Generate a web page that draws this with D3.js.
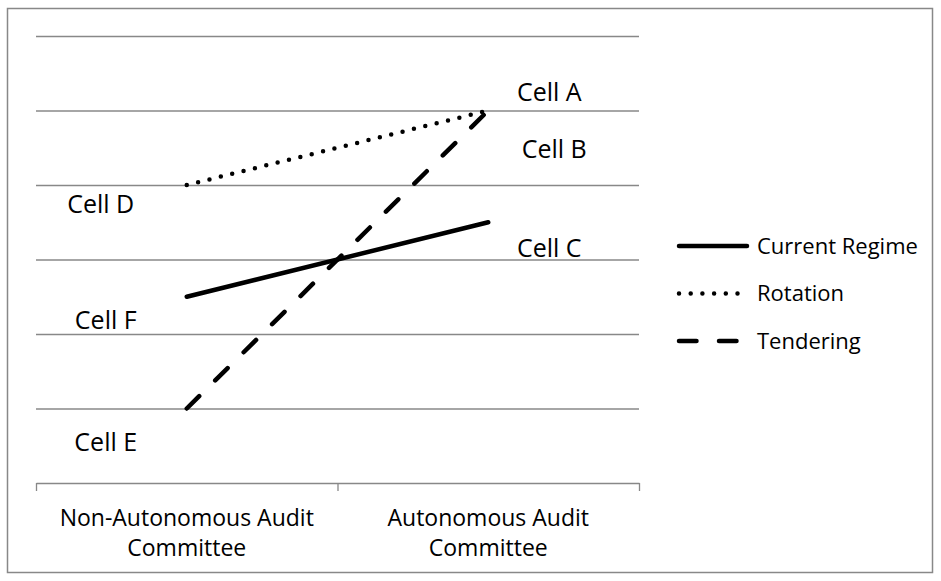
<!DOCTYPE html>
<html>
<head>
<meta charset="utf-8">
<script src="https://cdn.jsdelivr.net/npm/d3@7"></script>
<style>
  body { margin: 0; background: #fff; }
  text { font-family: "Open Sans", sans-serif; fill: #000; }
  .grid line { stroke: #888; stroke-width: 1.3; }
  .grid .domain { display: none; }
  .axis line, .axis path { stroke: #888; stroke-width: 1.3; }
</style>
</head>
<body>
<svg id="chart" width="941" height="581"></svg>
<script>
const categories = ["Non-Autonomous Audit\nCommittee", "Autonomous Audit\nCommittee"];
const seriesNames = ["Current Regime", "Rotation", "Tendering"];
const currentRegime = [2.5, 3.5];
const rotation = [4, 5];
const tendering = [1, 5];
const gridValues = [1, 2, 3, 4, 5, 6];
// cell annotations: category index, value, label
const cellLabels = [
    { cat: 1, value: 5.25, text: "Cell A" },
    { cat: 1, value: 4.48, text: "Cell B" },
    { cat: 1, value: 3.15, text: "Cell C" },
    { cat: 0, value: 3.74, text: "Cell D" },
    { cat: 0, value: 2.19, text: "Cell F" },
    { cat: 0, value: 0.55, text: "Cell E" }
];

const svg = d3.select("#chart");
const plot = { left: 36, right: 639, top: 36, bottom: 483 };

svg.append("rect")
    .attr("x", 7.5).attr("y", 8.5)
    .attr("width", 925).attr("height", 564)
    .attr("fill", "none")
    .attr("stroke", "#888")
    .attr("stroke-width", 1.5);

const x = d3.scaleBand().domain(d3.range(categories.length)).range([plot.left, plot.right]);
const xEdge = d3.scaleLinear().domain([0, categories.length]).range([plot.left, plot.right]);
const y = d3.scaleLinear().domain([0, 6]).range([plot.bottom, plot.top]);
const cx = i => x(i) + x.bandwidth() / 2;

svg.append("g")
    .attr("class", "grid")
    .attr("transform", `translate(${plot.left},0)`)
    .call(d3.axisLeft(y).tickValues(gridValues).tickSize(-(plot.right - plot.left)).tickFormat(""));

svg.append("g")
    .attr("class", "axis")
    .attr("transform", `translate(0,${plot.bottom})`)
    .call(d3.axisBottom(xEdge).tickValues(d3.range(categories.length + 1)).tickSize(8).tickSizeOuter(0).tickFormat(""));

const catLabels = svg.append("g").selectAll("text")
    .data(categories)
    .join("text")
    .attr("x", (d, i) => cx(i))
    .attr("y", 526)
    .attr("text-anchor", "middle")
    .style("font-size", "23px");
catLabels.each(function(d) {
    d.split("\n").forEach((t, k) => {
        d3.select(this).append("tspan")
            .attr("x", d3.select(this).attr("x"))
            .attr("dy", k === 0 ? 0 : 30)
            .text(t);
    });
});

const series = [
    { name: seriesNames[0], values: currentRegime, dash: null },
    { name: seriesNames[1], values: rotation, dash: "0 11.7" },
    { name: seriesNames[2], values: tendering, dash: "17.5 22.5" }
];

const line = d3.line()
    .x((d, i) => cx(i))
    .y(d => y(d));

svg.append("g").selectAll("path")
    .data(series)
    .join("path")
    .attr("d", d => line(d.values))
    .attr("fill", "none")
    .attr("stroke", "#000")
    .attr("stroke-width", 4.5)
    .attr("stroke-linecap", "round")
    .attr("stroke-dasharray", d => d.dash);

svg.append("g").selectAll("text")
    .data(cellLabels)
    .join("text")
    .attr("x", d => cx(d.cat) + (d.cat === 1 ? (d.text === "Cell B" ? 66 : 61) : (d.text === "Cell D" ? -86 : -81)))
    .attr("y", d => y(d.value))
    .attr("dy", "0.35em")
    .attr("text-anchor", "middle")
    .style("font-size", "25px")
    .text(d => d.text);

const legend = svg.append("g").selectAll("g")
    .data(series)
    .join("g")
    .attr("transform", (d, i) => `translate(679,${246 + i * 47.5})`);

legend.append("line")
    .attr("x1", 0).attr("x2", 68)
    .attr("stroke", "#000")
    .attr("stroke-width", 4.5)
    .attr("stroke-linecap", "round")
    .attr("stroke-dasharray", d => d.dash);

legend.append("text")
    .attr("x", 78)
    .attr("dy", "0.35em")
    .style("font-size", "22px")
    .text(d => d.name);
</script>
</body>
</html>
